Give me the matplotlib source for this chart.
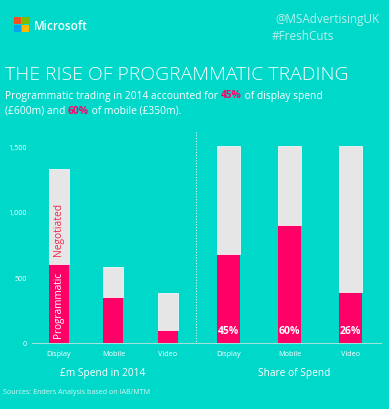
import matplotlib
matplotlib.use("Agg")
import matplotlib.pyplot as plt
from matplotlib.patches import Rectangle
from matplotlib.lines import Line2D

plt.rcParams['font.family'] = ['Open Sans', 'DejaVu Sans']

categories = ["Display", "Mobile", "Video"]
programmatic = [600, 350, 100]
total_spend = [1330, 580, 385]
negotiated = [t - p for t, p in zip(total_spend, programmatic)]
share_prog = [0.45, 0.60, 0.26]
share_labels = ["45%", "60%", "26%"]
yticks = [0, 500, 1000, 1500]
ytick_labels = ["0", "500", "1,000", "1,500"]

BG = "#00D8CA"
PINK = "#FF0066"
GREY = "#E6E6E6"
PALE = "#D8F6F3"
AXC = "#9FE3DD"

W, H = 389, 410
fig = plt.figure(figsize=(W / 100, H / 100), dpi=100, facecolor=BG)

def fx(px):
    return px / W

def fy(py):
    return 1 - py / H

# axes geometry
bottom = fy(344)
top = fy(135)
ax1 = fig.add_axes([fx(32), bottom, fx(193) - fx(32), top - bottom])
ax2 = fig.add_axes([fx(193), bottom, fx(381) - fx(193), top - bottom])

x = list(range(len(categories)))
for ax in (ax1, ax2):
    ax.set_facecolor("none")
    for s in ax.spines.values():
        s.set_visible(False)
    ax.axhline(0, color=AXC, lw=0.8, zorder=0, clip_on=False)
    ax.tick_params(length=0)
    ax.set_xticks(x)
    ax.set_xticklabels(categories, color="white", fontsize=5.2)
    ax.tick_params(axis='x', pad=5)

# left chart
bw1 = 20 / 54.5
ax1.bar(x, programmatic, width=bw1, color=PINK, edgecolor="none", zorder=2)
ax1.bar(x, negotiated, bottom=programmatic, width=bw1, color=GREY,
        edgecolor="#F4F4F4", linewidth=0.6, zorder=2)
ax1.set_xlim(-0.495, -0.495 + 161 / 54.5)
ax1.set_ylim(0, 1500 * 209 / 196.7)
ax1.set_yticks(yticks)
ax1.set_yticklabels(ytick_labels, color="white", fontsize=5.2)
ax1.tick_params(axis='y', pad=4)

ax1.text(0, programmatic[0] / 2, "Programmatic", rotation=90, ha="center",
         va="center", color="white", fontsize=7.2, zorder=3)
ax1.text(0, 875, "Negotiated", rotation=90,
         ha="center", va="center", color="#F0264E", fontsize=7.4, zorder=3)

# right chart
bw2 = 22.7 / 61
ax2.bar(x, share_prog, width=bw2, color=PINK, edgecolor="none", zorder=2)
ax2.bar(x, [1 - s for s in share_prog], bottom=share_prog, width=bw2,
        color=GREY, edgecolor="#F4F4F4", linewidth=0.6, zorder=2)
ax2.set_xlim(-0.585, -0.585 + 188 / 61)
ax2.set_ylim(0, 209 / 196.7)
ax2.set_yticks([])
for xi, lab in zip(x, share_labels):
    ax2.text(xi, 0.065, lab, ha="center", va="center", color="white",
             fontsize=7.5, fontweight="bold", zorder=3)

# dotted divider
fig.add_artist(Line2D([fx(196), fx(196)], [fy(133), fy(344)],
                      color=PALE, lw=0.8, linestyle=(0, (1, 1.5))))

# axis titles
fig.text(fx(102.5), fy(374), "£m Spend in 2014", ha="center", va="center",
         color="white", fontsize=7.3)
fig.text(fx(294), fy(374), "Share of Spend", ha="center", va="center",
         color="white", fontsize=7.3)
fig.text(fx(3), fy(393), "Sources: Enders Analysis based on IAB/MTM",
         ha="left", va="center", color=PALE, fontsize=5.1)

# Microsoft logo
sq = 6.8
gap = 0.9
cols = [["#F25022", "#7FBA00"], ["#00A4EF", "#FFB900"]]
for r in range(2):
    for c in range(2):
        x0 = 14 + c * (sq + gap)
        y0 = 18 + r * (sq + gap)
        fig.add_artist(Rectangle((fx(x0), fy(y0 + sq)), fx(sq), sq / H,
                                 facecolor=cols[r][c], edgecolor="none"))
fig.text(fx(34), fy(26), "Microsoft", ha="left", va="center", color="white",
         fontsize=8.4, fontweight="semibold")

fig.text(fx(379), fy(20), "@MSAdvertisingUK", ha="right", va="center",
         color=PALE, fontsize=8.5, alpha=0.85)
fig.text(fx(272), fy(36), "#FreshCuts", ha="left", va="center",
         color=PALE, fontsize=8.5, alpha=0.85)

# title
fig.text(fx(5), fy(75), "THE RISE OF PROGRAMMATIC TRADING", ha="left",
         va="center", color="white", fontsize=13.95, fontweight="light")

# subtitle with highlighted numbers
sub_fs = 7.35
def rich_line(parts, y):
    xpos = fx(5)
    r = fig.canvas.get_renderer()
    for txt, color, weight in parts:
        t = fig.text(xpos, fy(y), txt, ha="left", va="center", color=color,
                     fontsize=sub_fs, fontweight=weight)
        bb = t.get_window_extent(renderer=r)
        xpos += bb.width / fig.bbox.width

rich_line([("Programmatic trading in 2014 accounted for ", "white", "normal"),
           ("45%", PINK, "bold"),
           (" of display spend", "white", "normal")], 96)
rich_line([("(£600m) and ", "white", "normal"),
           ("60%", PINK, "bold"),
           (" of mobile (£350m).", "white", "normal")], 111)

fig.savefig("out.png", dpi=100, facecolor=BG)
